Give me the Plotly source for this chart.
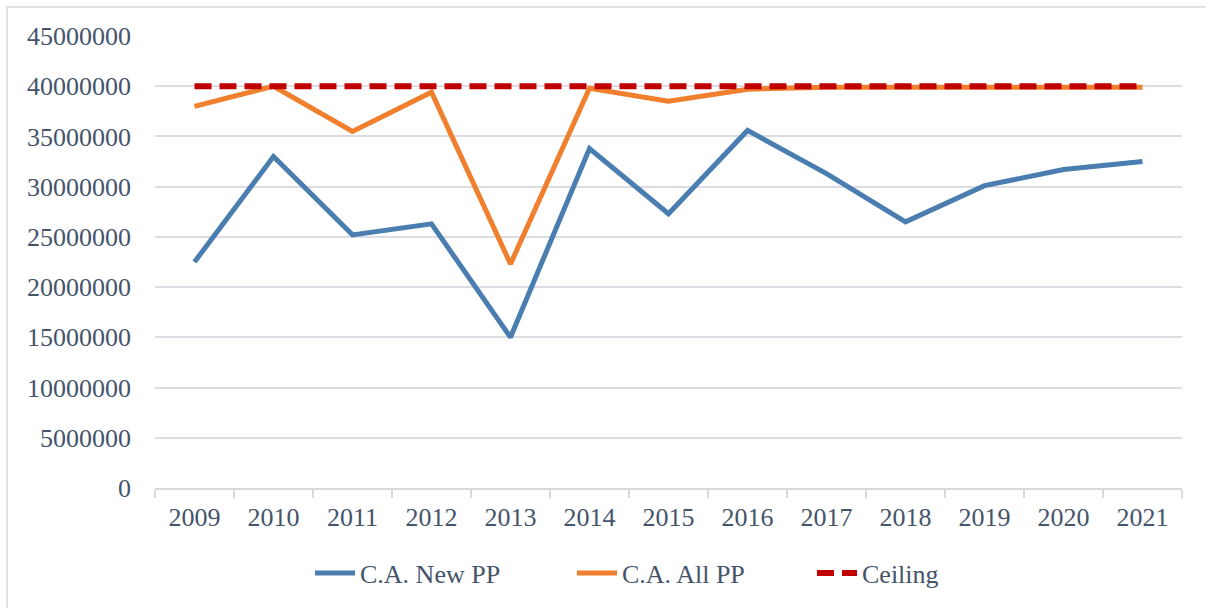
import plotly.graph_objects as go

years = ["2009", "2010", "2011", "2012", "2013", "2014", "2015", "2016", "2017", "2018", "2019", "2020", "2021"]
ca_new_pp = [22500000, 33000000, 25200000, 26300000, 15000000, 33800000, 27300000, 35600000,
             31300000, 26500000, 30100000, 31700000, 32500000]
ca_all_pp = [38000000, 40000000, 35500000, 39400000, 22300000, 39800000, 38500000, 39700000,
             39900000, 39900000, 39900000, 39900000, 39900000]
ceiling = [40000000] * 13

font_color = "#44546A"
font_family = "Liberation Serif, Times New Roman, serif"

W, H = 1206, 608
L, R, T, B = 155, 24, 36, 120
pw, ph = W - L - R, H - T - B

fig = go.Figure()
fig.add_trace(go.Scatter(x=years, y=ca_new_pp, mode="lines", name="C.A. New PP", legend="legend",
                         line=dict(color="#4A7EB0", width=5)))
fig.add_trace(go.Scatter(x=years, y=ca_all_pp, mode="lines", name="C.A. All PP", legend="legend2",
                         line=dict(color="#F07F2E", width=5)))
fig.add_trace(go.Scatter(x=years, y=ceiling, mode="lines", name="Ceiling", legend="legend3",
                         line=dict(color="#C00000", width=6, dash="17px,8px")))

legend_y = (488 - 573) / ph


def leg(text_start):
    return dict(orientation="h", x=(text_start - 50 - L) / pw, xanchor="left", y=legend_y, yanchor="middle",
                font=dict(size=26, color=font_color), bgcolor="rgba(0,0,0,0)", itemwidth=40)


fig.update_layout(
    width=W, height=H,
    margin=dict(l=L, r=R, t=T, b=B),
    paper_bgcolor="white", plot_bgcolor="white",
    font=dict(family=font_family, size=26, color=font_color),
    showlegend=True,
    legend=leg(360), legend2=leg(622), legend3=leg(862),
    xaxis=dict(type="category", showgrid=False, showline=True, linecolor="#D9D9D9", linewidth=1.5,
               ticks="outside", tickson="boundaries", ticklen=8, tickcolor="#D9D9D9", tickwidth=1.5,
               ticklabelstandoff=5,
               tickfont=dict(size=26, color=font_color), range=[-0.5, 12.5]),
    yaxis=dict(range=[0, 45000000], dtick=5000000, showgrid=True, gridcolor="#DCDCE2", gridwidth=1.5,
               zeroline=False, showline=False, tickformat="d", ticks="", ticklabelstandoff=23,
               tickfont=dict(size=26, color=font_color)),
)

# outer chart frame
fig.add_shape(type="rect", xref="paper", yref="paper",
              x0=(7 - L) / pw, x1=(1212 - L) / pw, y0=(488 - 614) / ph, y1=(488 - 7) / ph,
              line=dict(color="#D9D9D9", width=1.5), fillcolor="rgba(0,0,0,0)", layer="below")

fig.write_html("out.html", config={"displayModeBar": False},
               post_script="document.body.style.margin='0';document.body.style.overflow='hidden';")
